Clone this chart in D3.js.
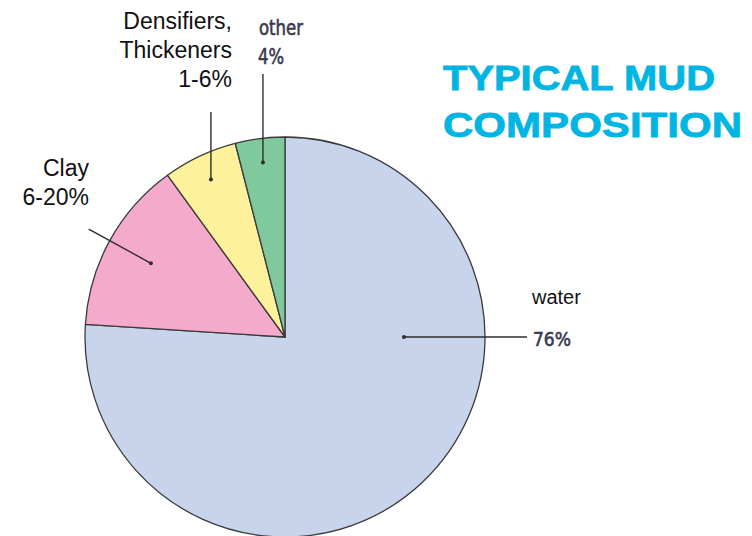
<!DOCTYPE html>
<html>
<head>
<meta charset="utf-8">
<script src="https://cdn.jsdelivr.net/npm/d3@7"></script>
<style>
  body { margin: 0; background: #fff; }
  svg { display: block; }
</style>
</head>
<body>
<div id="chart"></div>
<script>
// slices go clockwise from 12 o'clock
const categories = ['water', 'Clay', 'Densifiers', 'other'];
const values = [76, 14, 6, 4];
const colors = ['#c8d4ec', '#f4aacb', '#fdf29b', '#80c99c'];
const labelLines = [
  ['water'],
  ['Clay', '6-20%'],
  ['Densifiers,', 'Thickeners', '1-6%'],
  []
];
const pctLabels = ['76%', null, null, '4%'];
const narrowLabels = [null, null, null, 'other'];

const width = 752;
const height = 536;
const cx = 285, cy = 337, radius = 200;
const narrowFont = '"DejaVu Sans Condensed", "DejaVu Sans", sans-serif';
const narrowColor = '#3a3a4e';

const svg = d3.select('#chart')
  .append('svg')
  .attr('width', width)
  .attr('height', height);

const data = categories.map((c, i) => ({ name: c, value: values[i], color: colors[i], idx: i }));

const pie = d3.pie()
  .sort(null)
  .value(d => d.value);

const arc = d3.arc()
  .innerRadius(0)
  .outerRadius(radius);

const arcs = pie(data);

const g = svg.append('g')
  .attr('transform', `translate(${cx}, ${cy})`);

g.selectAll('.slice')
  .data(arcs)
  .enter()
  .append('path')
  .classed('slice', true)
  .attr('d', arc)
  .attr('fill', d => d.data.color)
  .attr('stroke', '#3a3a3a')
  .attr('stroke-width', 1.3)
  .attr('stroke-linejoin', 'round');

// polar helper, angle measured clockwise from north like d3.pie
const polar = (a, r) => [Math.sin(a) * r, -Math.cos(a) * r];
const mid = d => (d.startAngle + d.endAngle) / 2;

// leader lines: angle + radius for the dot, then where the line ends
const leaders = [
  { a: Math.PI / 2, r: 119, end: (p) => [527 - cx, p[1]] },
  { a: mid(arcs[1]), r: 153, end: () => polar(mid(arcs[1]), 224) },
  { a: mid(arcs[2]), r: 174, end: (p) => [p[0], 112 - cy] },
  { a: mid(arcs[3]), r: 176, end: (p) => [p[0], 74 - cy] }
];

leaders.forEach(l => {
  const p = polar(l.a, l.r);
  const e = l.end(p);
  g.append('line')
    .attr('x1', p[0]).attr('y1', p[1])
    .attr('x2', e[0]).attr('y2', e[1])
    .attr('stroke', '#2e2e2e')
    .attr('stroke-width', 1.4);
  g.append('circle')
    .attr('cx', p[0]).attr('cy', p[1])
    .attr('r', 2)
    .attr('fill', '#2e2e2e');
});

// category labels (Arial-like)
const labelPos = [
  { x: 532, y: 304, anchor: 'start', size: 20, step: 0 },
  { x: 89, y: 176, anchor: 'end', size: 23, step: 29 },
  { x: 232, y: 29, anchor: 'end', size: 23, step: 29 },
  null
];

labelLines.forEach((lines, i) => {
  if (!lines.length) return;
  const pos = labelPos[i];
  const t = svg.append('text')
    .attr('text-anchor', pos.anchor)
    .attr('font-family', '"Liberation Sans", Arial, sans-serif')
    .attr('font-size', pos.size)
    .attr('fill', '#111');
  lines.forEach((s, j) => {
    t.append('tspan')
      .attr('x', pos.x)
      .attr('y', pos.y + j * pos.step)
      .text(s);
  });
});

// labels set in the narrow font
const narrowPos = [null, null, null, { x: 259, y: 35, w: 44 }];
narrowLabels.forEach((s, i) => {
  if (!s) return;
  svg.append('text')
    .attr('x', narrowPos[i].x)
    .attr('y', narrowPos[i].y)
    .attr('font-family', narrowFont)
    .attr('font-size', 21)
    .attr('textLength', narrowPos[i].w)
    .attr('lengthAdjust', 'spacingAndGlyphs')
    .attr('fill', narrowColor)
    .attr('stroke', narrowColor)
    .attr('stroke-width', 0.6)
    .text(s);
});

const pctPos = [
  { x: 533, y: 346, w: 38, size: 20 },
  null, null,
  { x: 258, y: 64, w: 26, size: 22 }
];
pctLabels.forEach((s, i) => {
  if (!s) return;
  svg.append('text')
    .attr('x', pctPos[i].x)
    .attr('y', pctPos[i].y)
    .attr('font-family', narrowFont)
    .attr('font-size', pctPos[i].size)
    .attr('textLength', pctPos[i].w)
    .attr('lengthAdjust', 'spacingAndGlyphs')
    .attr('fill', narrowColor)
    .attr('stroke', narrowColor)
    .attr('stroke-width', 0.6)
    .text(s);
});

// title
const titleLines = ['TYPICAL MUD', 'COMPOSITION'];
const titleWidths = [272, 299];
titleLines.forEach((s, i) => {
  svg.append('text')
    .attr('x', 443)
    .attr('y', 90 + i * 47)
    .attr('font-family', '"Liberation Sans", Arial, sans-serif')
    .attr('font-weight', 'bold')
    .attr('font-size', 35)
    .attr('textLength', titleWidths[i])
    .attr('lengthAdjust', 'spacingAndGlyphs')
    .attr('fill', '#00b5e2')
    .attr('stroke', '#00b5e2')
    .attr('stroke-width', 0.8)
    .text(s);
});
</script>
</body>
</html>
